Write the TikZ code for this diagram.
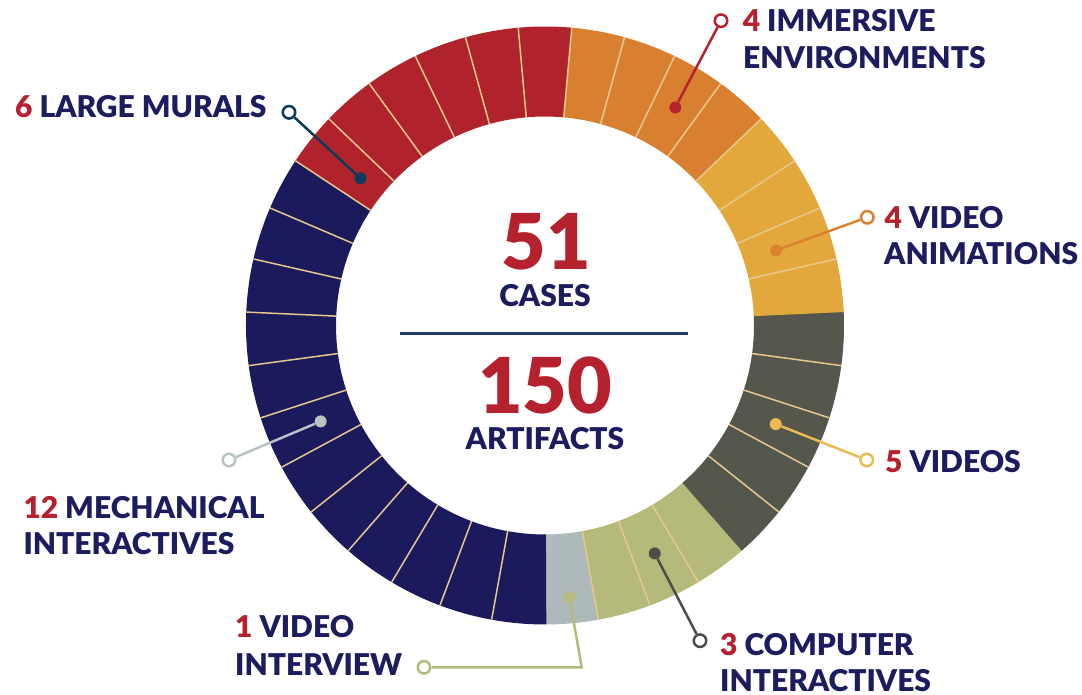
\documentclass[tikz,border=0pt]{standalone}
\usepackage{fontspec}
\setmainfont{Lato}[BoldFont={Lato Black}]
\usetikzlibrary{calc}
\definecolor{cLgrey}{HTML}{AEB9BC}
\definecolor{cOlive}{HTML}{B5BA7A}
\definecolor{cDgrey}{HTML}{55564C}
\definecolor{cYellow}{HTML}{E3A83C}
\definecolor{cOrange}{HTML}{D98030}
\definecolor{cRed}{HTML}{B0232D}
\definecolor{cNavy}{HTML}{1A1A5C}
\definecolor{cSep}{HTML}{E6C88E}
\definecolor{tRed}{HTML}{B5212D}
\definecolor{tNavy}{HTML}{1C1D5E}
\definecolor{cRule}{HTML}{1E3C6E}
\definecolor{kMural}{HTML}{0E3B5C}
\definecolor{kImm}{HTML}{B5232E}
\definecolor{kAnim}{HTML}{DB8231}
\definecolor{kVid}{HTML}{EABB52}
\definecolor{kComp}{HTML}{4D4E47}
\definecolor{kInt}{HTML}{B6BB7B}
\definecolor{kMech}{HTML}{B9C3C6}
\begin{document}
\begin{tikzpicture}[x=1pt,y=1pt,
  sep/.style={draw=cSep, line width=1.5pt},
  lbl/.style={anchor=base west, inner sep=0pt, font=\fontsize{30}{30}\selectfont\bfseries, text=tNavy},
  big/.style={anchor=base, inner sep=0pt, font=\fontsize{77}{77}\selectfont\bfseries, text=tRed},
  sub/.style={anchor=base, inner sep=0pt, font=\fontsize{30}{30}\selectfont\bfseries, text=tNavy},
  dotm/.style={circle, fill=#1, inner sep=0pt, minimum size=12pt},
  ring/.style={circle, draw=#1, fill=white, line width=2.5pt, inner sep=0pt, minimum size=12.5pt},
  conn/.style={draw=#1, line width=2.5pt}]
\useasboundingbox (0,0) rectangle (1082,695);
\fill[white] (0,0) rectangle (1082,695);
\coordinate (C) at (545,369.5);
\def\Ro{299}
\def\Ri{209}
\def\dd{10.2857142857}
% category sectors
\foreach \s/\n/\c in {0/1/cLgrey, 1/3/cOlive, 4/5/cDgrey, 9/4/cYellow, 13/4/cOrange, 17/6/cRed, 23/12/cNavy}{
  \pgfmathsetmacro\a{270+\s*\dd}
  \pgfmathsetmacro\b{270+(\s+\n)*\dd+0.25}
  \fill[\c, shift={(C)}] (\a:\Ro) arc[start angle=\a, end angle=\b, radius=\Ro]
     -- (\b:\Ri) arc[start angle=\b, end angle=\a, radius=\Ri] -- cycle;
}
% separators
\foreach \i in {1,2,3,5,6,7,8,10,11,...,34}{
  \pgfmathsetmacro\a{270+\i*\dd}
  \draw[sep, shift={(C)}] (\a:\Ri) -- (\a:\Ro);
}
% centre texts
\node[big] (n51) at (546,425) {51};
\node[sub] (cases) at (545,388.3) {CASES};
\coordinate (ruleL) at (400,361);
\coordinate (ruleR) at (688,361);
\draw[cRule, line width=3pt] (ruleL) -- (ruleR);
\node[big] (n150) at (545,281.7) {150};
\node[sub] (artif) at (545,245) {ARTIFACTS};
% dots on the ring
\node[dotm=kMural] (dMural) at ($(C)+(141.43:236)$) {};
\node[dotm=kImm] (dImm) at ($(C)+(59.14:254)$) {};
\node[dotm=kAnim] (dAnim) at ($(C)+(18:243)$) {};
\node[dotm=kVid] (dVid) at ($(C)+(336.86:251)$) {};
\node[dotm=kComp] (dComp) at ($(C)+(295.71:253)$) {};
\node[dotm=kInt] (dInt) at ($(C)+(275.14:273)$) {};
\node[dotm=kMech] (dMech) at ($(C)+(203.14:244)$) {};
% open circles
\node[ring=kMural] (rMural) at (289,582.7) {};
\node[ring=kImm] (rImm) at (721,674.3) {};
\node[ring=kAnim] (rAnim) at (867.3,477.7) {};
\node[ring=kVid] (rVid) at (866.7,235) {};
\node[ring=kComp] (rComp) at (700,54.3) {};
\node[ring=kInt] (rInt) at (424,27.7) {};
\node[ring=kMech] (rMech) at (229,235) {};
\coordinate (bInt) at (581.7,27.7);
% connectors
\draw[conn=kMural] (dMural) -- (rMural);
\draw[conn=kImm] (dImm) -- (rImm);
\draw[conn=kAnim] (dAnim) -- (rAnim);
\draw[conn=kVid] (dVid) -- (rVid);
\draw[conn=kComp] (dComp) -- (rComp);
\draw[conn=kInt] (dInt) -- (bInt) -- (rInt);
\draw[conn=kMech] (dMech) -- (rMech);
% labels
\node[lbl] (lMural) at (15,577.3) {\textcolor{tRed}{6} LARGE MURALS};
\node[lbl] (lImm1) at (742.7,663.3) {\textcolor{tRed}{4} IMMERSIVE};
\node[lbl] (lImm2) at (743,626.7) {ENVIRONMENTS};
\node[lbl] (lAnim1) at (884.3,466.7) {\textcolor{tRed}{4} VIDEO};
\node[lbl] (lAnim2) at (884,430) {ANIMATIONS};
\node[lbl] (lVid) at (885,222.3) {\textcolor{tRed}{5} VIDEOS};
\node[lbl] (lComp1) at (720,39) {\textcolor{tRed}{3} COMPUTER};
\node[lbl] (lComp2) at (720,3.5) {INTERACTIVES};
\node[lbl] (lInt1) at (235,57.7) {\textcolor{tRed}{1} VIDEO};
\node[lbl] (lInt2) at (235,19.3) {INTERVIEW};
\node[lbl] (lMech1) at (23.3,176.7) {\textcolor{tRed}{12} MECHANICAL};
\node[lbl] (lMech2) at (23.3,140) {INTERACTIVES};
\end{tikzpicture}
\end{document}
